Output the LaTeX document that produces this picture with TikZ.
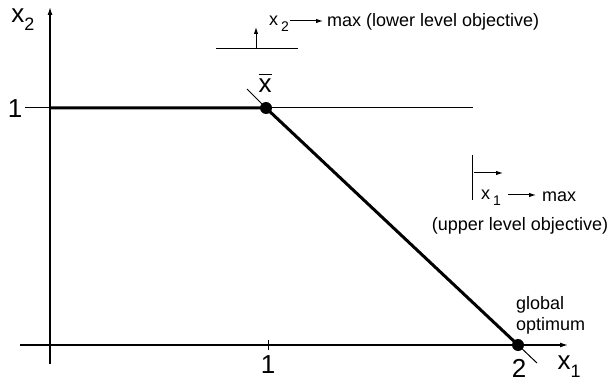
\documentclass[tikz,border=0pt]{standalone}
\usepackage{fontspec}
\setmainfont{Liberation Sans}
\usetikzlibrary{arrows.meta}
\newcommand{\bigf}{\fontsize{26}{28}\selectfont}
\newcommand{\smf}{\fontsize{18}{21}\selectfont}
\newcommand{\bsub}[1]{\raisebox{-0.3em}{\fontsize{18}{18}\selectfont #1}}
\newcommand{\ssub}[1]{\raisebox{-0.35em}{\fontsize{14}{14}\selectfont #1}}
\begin{document}
\begin{tikzpicture}[x=1pt,y=-1pt,
  axis/.style={line width=1.3pt,-{Latex[length=8pt,width=5pt]}},
  thin/.style={line width=1pt},
  thick line/.style={line width=3pt},
  sarrow/.style={line width=1pt,-{Latex[length=7pt,width=4.5pt]}},
  dot/.style={circle,fill=black,inner sep=0pt,minimum size=12pt},
  big/.style={font=\bigf,inner sep=0pt},
  small/.style={font=\smf,inner sep=0pt}]
\useasboundingbox (0,0) rectangle (610,382);
% axes
\coordinate (ybot) at (50,364);
\coordinate (ytop) at (50,7);
\coordinate (xl) at (20,345);
\coordinate (xr) at (568,345);
\draw[axis] (ybot) -- (ytop);
\draw[axis] (xl) -- (xr);
% tick at 1
\coordinate (t1a) at (268,340);
\coordinate (t1b) at (268,350);
\draw[thin] (t1a) -- (t1b);
% horizontal line x2=1
\coordinate (hl) at (25,108);
\coordinate (hr) at (473,108);
\draw[thin] (hl) -- (hr);
% points
\coordinate (p0) at (50,108);
\node[dot] (xbar) at (266,108) {};
\node[dot] (gopt) at (518,345) {};
\draw[thick line] (p0) -- (xbar.center) -- (gopt.center);
% tangent marks
\coordinate (ta) at (247,89);
\coordinate (tb) at (537,363);
\draw[thin] (ta) -- (xbar.center);
\draw[thin] (gopt.center) -- (tb);
% labels
\node[big] (lx2) at (23,20) {x\bsub{2}};
\node[big] (l1y) at (15,109) {1};
\node[big] (l1x) at (268,365) {1};
\node[big] (l2x) at (519,368) {2};
\node[big] (lx1) at (569,367) {x\bsub{1}};
\node[big,anchor=base] (lxbar) at (265,93) {$\overline{\vphantom{\mbox{X}}\mbox{x}}$};
% top objective
\coordinate (tl) at (216,49);
\coordinate (tr) at (298,49);
\draw[thin] (tl) -- (tr);
\coordinate (ua) at (256,49);
\coordinate (ub) at (256,27);
\draw[sarrow] (ua) -- (ub);
\node[small,anchor=west] (tx2) at (269,24) {x\,\ssub{2}};
\coordinate (ra) at (290,21);
\coordinate (rb) at (323,21);
\draw[sarrow] (ra) -- (rb);
\node[small,anchor=west] (tmax) at (327,22) {max (lower level objective)};
% right objective
\coordinate (va) at (472,155);
\coordinate (vb) at (472,200);
\draw[thin] (va) -- (vb);
\coordinate (ha) at (474,173);
\coordinate (hb) at (503,173);
\draw[sarrow] (ha) -- (hb);
\node[small,anchor=west] (rx1) at (481,198) {x\,\ssub{1}};
\coordinate (r2a) at (508,195);
\coordinate (r2b) at (536,195);
\draw[sarrow] (r2a) -- (r2b);
\node[small,anchor=west] (rmax) at (542,197) {max};
\node[small] (upper) at (520,226) {(upper level objective)};
\node[small,anchor=west,align=left] (glob) at (516,315) {global\\optimum};
\end{tikzpicture}
\end{document}
